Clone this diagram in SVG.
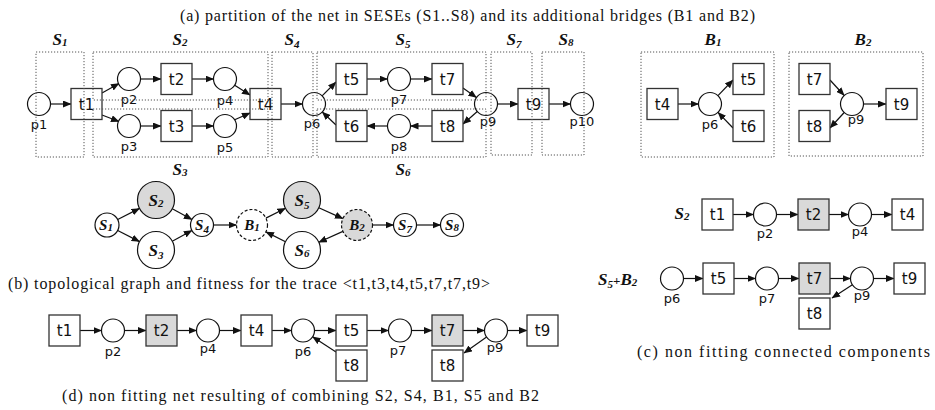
<svg xmlns="http://www.w3.org/2000/svg" width="935" height="410" viewBox="0 0 935 410">
<style>
.pl{fill:#fff;stroke:#111;stroke-width:1.2}
.tr{fill:#fff;stroke:#333;stroke-width:1.3}
.g{fill:#d9d9d9}
.dash{stroke-dasharray:3 2}
.arc{stroke:#111;stroke-width:1.2;fill:none;marker-end:url(#ah)}
.box{fill:none;stroke:#555;stroke-width:1;stroke-dasharray:1.2 1.8}
.tl{font-family:"DejaVu Sans",sans-serif;font-size:15px;text-anchor:middle;fill:#111}
.pt{font-family:"DejaVu Sans",sans-serif;font-size:13px;text-anchor:middle;fill:#111}
.cap{font-family:"Liberation Serif",serif;font-size:16px;fill:#111}
.sl{font-family:"Liberation Serif",serif;font-weight:bold;font-style:italic;font-size:17px;text-anchor:middle;fill:#111}
.sm{font-size:11px}
.gl{font-family:"Liberation Serif",serif;font-weight:bold;font-style:italic;font-size:15px;text-anchor:middle;fill:#111}
</style>
<defs>
<marker id="ah" markerUnits="userSpaceOnUse" markerWidth="9" markerHeight="7" refX="8" refY="3.5" orient="auto">
<path d="M0,0 L8.5,3.5 L0,7 z" fill="#111"/>
</marker>
</defs>
<rect width="935" height="410" fill="#fff"/>

<!-- captions -->
<text class="cap" x="180" y="21" textLength="575" lengthAdjust="spacing">(a) partition of the net in SESEs (S1..S8) and its additional bridges (B1 and B2)</text>
<text class="cap" x="8" y="289" textLength="482" lengthAdjust="spacing">(b) topological graph and fitness for the trace &lt;t1,t3,t4,t5,t7,t7,t9&gt;</text>
<text class="cap" x="637" y="357" textLength="293" lengthAdjust="spacing">(c) non fitting connected components</text>
<text class="cap" x="62" y="401" textLength="477" lengthAdjust="spacing">(d) non fitting net resulting of combining S2, S4, B1, S5 and B2</text>

<!-- ===== (a) ===== -->
<g id="a-connectors">
<line class="arc" x1="50.5" y1="104" x2="71" y2="104"/>
<line class="arc" x1="102" y1="93" x2="119" y2="83.5"/>
<line class="arc" x1="102" y1="115" x2="119" y2="121.5"/>
<line class="arc" x1="140.5" y1="79" x2="161" y2="79"/>
<line class="arc" x1="192" y1="79" x2="213.5" y2="79"/>
<line class="arc" x1="140.5" y1="126" x2="161" y2="126"/>
<line class="arc" x1="192" y1="126" x2="213.5" y2="126"/>
<line class="arc" x1="234.7" y1="85.2" x2="250" y2="95"/>
<line class="arc" x1="234.7" y1="119.8" x2="250" y2="113"/>
<line class="arc" x1="281" y1="104" x2="302.5" y2="104"/>
<line class="arc" x1="322.1" y1="95.9" x2="336" y2="82"/>
<line class="arc" x1="336" y1="125" x2="322.3" y2="112"/>
<line class="arc" x1="367" y1="79" x2="387.5" y2="79"/>
<line class="arc" x1="410.5" y1="79" x2="432" y2="79"/>
<line class="arc" x1="463" y1="88" x2="476.4" y2="97.5"/>
<line class="arc" x1="477.3" y1="111.5" x2="463" y2="124"/>
<line class="arc" x1="432" y1="126" x2="410.5" y2="126"/>
<line class="arc" x1="387.5" y1="126" x2="367" y2="126"/>
<line class="arc" x1="497.5" y1="104" x2="518" y2="104"/>
<line class="arc" x1="549" y1="104" x2="570.5" y2="104"/>
</g>
<g id="a-p1"><circle class="pl" cx="39" cy="104" r="11.5"/><text class="pt" x="39" y="129">p1</text></g>
<g id="a-t1"><rect class="tr" x="71" y="88.5" width="31" height="31"/><text class="tl" x="86.5" y="109.5">t1</text></g>
<g id="a-p2"><circle class="pl" cx="129" cy="79" r="11.5"/><text class="pt" x="129" y="104">p2</text></g>
<g id="a-t2"><rect class="tr" x="161" y="63.5" width="31" height="31"/><text class="tl" x="176.5" y="84.5">t2</text></g>
<g id="a-p4"><circle class="pl" cx="225" cy="79" r="11.5"/><text class="pt" x="225" y="105">p4</text></g>
<g id="a-p3"><circle class="pl" cx="129" cy="126" r="11.5"/><text class="pt" x="129" y="151">p3</text></g>
<g id="a-t3"><rect class="tr" x="161" y="110.5" width="31" height="31"/><text class="tl" x="176.5" y="131.5">t3</text></g>
<g id="a-p5"><circle class="pl" cx="225" cy="126" r="11.5"/><text class="pt" x="225" y="152">p5</text></g>
<g id="a-t4"><rect class="tr" x="250" y="88.5" width="31" height="31"/><text class="tl" x="265.5" y="109.5">t4</text></g>
<g id="a-p6"><circle class="pl" cx="314" cy="104" r="11.5"/><text class="pt" x="312" y="128">p6</text></g>
<g id="a-t5"><rect class="tr" x="336" y="63.5" width="31" height="31"/><text class="tl" x="351.5" y="84.5">t5</text></g>
<g id="a-p7"><circle class="pl" cx="399" cy="79" r="11.5"/><text class="pt" x="399" y="104">p7</text></g>
<g id="a-t7"><rect class="tr" x="432" y="63.5" width="31" height="31"/><text class="tl" x="447.5" y="84.5">t7</text></g>
<g id="a-p9"><circle class="pl" cx="486" cy="104" r="11.5"/><text class="pt" x="488" y="126">p9</text></g>
<g id="a-t6"><rect class="tr" x="336" y="110.5" width="31" height="31"/><text class="tl" x="351.5" y="131.5">t6</text></g>
<g id="a-p8"><circle class="pl" cx="399" cy="126" r="11.5"/><text class="pt" x="399" y="151">p8</text></g>
<g id="a-t8"><rect class="tr" x="432" y="110.5" width="31" height="31"/><text class="tl" x="447.5" y="131.5">t8</text></g>
<g id="a-t9"><rect class="tr" x="518" y="88.5" width="31" height="31"/><text class="tl" x="533.5" y="109.5">t9</text></g>
<g id="a-p10"><circle class="pl" cx="582" cy="104" r="11.5"/><text class="pt" x="582" y="126">p10</text></g>

<g id="a-regions">
<rect class="box" x="36" y="52" width="48" height="105"/>
<rect class="box" x="93" y="52" width="175" height="48"/>
<rect class="box" x="93" y="109" width="175" height="48"/>
<rect class="box" x="272" y="52" width="41" height="105"/>
<rect class="box" x="317" y="52" width="169" height="48"/>
<rect class="box" x="317" y="109" width="169" height="48"/>
<rect class="box" x="491" y="52" width="41" height="103"/>
<rect class="box" x="542" y="52" width="42" height="103"/>
<text class="sl" x="60" y="45">S<tspan class="sm" dy="1">1</tspan></text>
<text class="sl" x="180" y="45">S<tspan class="sm" dy="1">2</tspan></text>
<text class="sl" x="180" y="175">S<tspan class="sm" dy="1">3</tspan></text>
<text class="sl" x="292" y="45">S<tspan class="sm" dy="3">4</tspan></text>
<text class="sl" x="403" y="45">S<tspan class="sm" dy="3">5</tspan></text>
<text class="sl" x="403" y="175">S<tspan class="sm" dy="1">6</tspan></text>
<text class="sl" x="514" y="45">S<tspan class="sm" dy="3">7</tspan></text>
<text class="sl" x="566" y="45">S<tspan class="sm" dy="1">8</tspan></text>
</g>

<!-- bridges -->
<g id="b1-connectors">
<line class="arc" x1="678" y1="104" x2="698.5" y2="104"/>
<line class="arc" x1="718" y1="95.7" x2="733" y2="80"/>
<line class="arc" x1="733" y1="128" x2="718" y2="112.3"/>
</g>
<g id="b1-t4"><rect class="tr" x="647" y="88.5" width="31" height="31"/><text class="tl" x="662.5" y="109.5">t4</text></g>
<g id="b1-p6"><circle class="pl" cx="710" cy="104" r="11.5"/><text class="pt" x="710" y="129">p6</text></g>
<g id="b1-t5"><rect class="tr" x="733" y="63.5" width="31" height="31"/><text class="tl" x="748.5" y="84.5">t5</text></g>
<g id="b1-t6"><rect class="tr" x="733" y="110.5" width="31" height="31"/><text class="tl" x="748.5" y="131.5">t6</text></g>
<g id="b1-region"><rect class="box" x="641" y="52" width="133" height="105"/><text class="sl" x="713" y="45">B<tspan class="sm" dy="1">1</tspan></text></g>

<g id="b2-connectors">
<line class="arc" x1="830" y1="80" x2="844.2" y2="95.5"/>
<line class="arc" x1="844.2" y1="112.5" x2="830" y2="128"/>
<line class="arc" x1="863.5" y1="104" x2="886" y2="104"/>
</g>
<g id="b2-t7"><rect class="tr" x="799" y="63.5" width="31" height="31"/><text class="tl" x="814.5" y="84.5">t7</text></g>
<g id="b2-p9"><circle class="pl" cx="852" cy="104" r="11.5"/><text class="pt" x="856" y="124">p9</text></g>
<g id="b2-t9"><rect class="tr" x="886" y="88.5" width="31" height="31"/><text class="tl" x="901.5" y="109.5">t9</text></g>
<g id="b2-t8"><rect class="tr" x="799" y="110.5" width="31" height="31"/><text class="tl" x="814.5" y="131.5">t8</text></g>
<g id="b2-region"><rect class="box" x="789" y="52" width="134" height="104"/><text class="sl" x="863" y="45">B<tspan class="sm" dy="1">2</tspan></text></g>

<!-- ===== (b) ===== -->
<g id="b-connectors">
<line class="arc" x1="117.7" y1="219.5" x2="139.5" y2="208.4"/>
<line class="arc" x1="117.7" y1="230.5" x2="139.5" y2="241.6"/>
<line class="arc" x1="172.3" y1="208.8" x2="191.9" y2="219.5"/>
<line class="arc" x1="172.3" y1="241.2" x2="191.9" y2="230.5"/>
<line class="arc" x1="213.5" y1="225" x2="236.5" y2="225"/>
<line class="arc" x1="265.9" y1="218.1" x2="285.5" y2="208.3"/>
<line class="arc" x1="318.8" y1="207.7" x2="342.9" y2="218.6"/>
<line class="arc" x1="342.9" y1="231.4" x2="318.8" y2="242.3"/>
<line class="arc" x1="285.5" y1="241.7" x2="265.9" y2="231.9"/>
<line class="arc" x1="372.5" y1="225" x2="393.5" y2="225"/>
<line class="arc" x1="416.5" y1="225" x2="440.5" y2="225"/>
</g>
<g id="g-S1"><circle class="pl" cx="107" cy="225" r="12"/><text class="gl" x="106" y="230">S<tspan class="sm" dy="1">1</tspan></text></g>
<g id="g-S2"><circle class="pl g" cx="156" cy="200" r="18.5"/><text class="sl" x="156" y="206">S<tspan class="sm" dy="1">2</tspan></text></g>
<g id="g-S3"><circle class="pl" cx="156" cy="250" r="18.5"/><text class="sl" x="156" y="256">S<tspan class="sm" dy="3">3</tspan></text></g>
<g id="g-S4"><circle class="pl" cx="202" cy="225" r="11.5"/><text class="gl" x="202" y="230">S<tspan class="sm" dy="3">4</tspan></text></g>
<g id="g-B1"><circle class="pl dash" cx="252" cy="225" r="15.5"/><text class="gl" x="252" y="230">B<tspan class="sm" dy="1">1</tspan></text></g>
<g id="g-S5"><circle class="pl g" cx="302" cy="200" r="18.5"/><text class="sl" x="302" y="206">S<tspan class="sm" dy="3">5</tspan></text></g>
<g id="g-S6"><circle class="pl" cx="302" cy="250" r="18.5"/><text class="sl" x="302" y="256">S<tspan class="sm" dy="1">6</tspan></text></g>
<g id="g-B2"><circle class="pl g dash" cx="357" cy="225" r="15.5"/><text class="gl" x="357" y="230">B<tspan class="sm" dy="1">2</tspan></text></g>
<g id="g-S7"><circle class="pl" cx="405" cy="225" r="11.5"/><text class="gl" x="405" y="230">S<tspan class="sm" dy="3">7</tspan></text></g>
<g id="g-S8"><circle class="pl" cx="452" cy="225" r="11.5"/><text class="gl" x="452" y="230">S<tspan class="sm" dy="1">8</tspan></text></g>

<!-- ===== (c) ===== -->
<text class="sl" x="682" y="219">S<tspan class="sm" dy="1">2</tspan></text>
<g id="c-connectors">
<line class="arc" x1="733" y1="214.5" x2="753.5" y2="214.5"/>
<line class="arc" x1="776.5" y1="214.5" x2="798" y2="214.5"/>
<line class="arc" x1="829" y1="214.5" x2="848.5" y2="214.5"/>
<line class="arc" x1="871.5" y1="214.5" x2="892" y2="214.5"/>
<line class="arc" x1="683.5" y1="278.5" x2="703" y2="278.5"/>
<line class="arc" x1="734" y1="278.5" x2="755.5" y2="278.5"/>
<line class="arc" x1="778.5" y1="278.5" x2="799" y2="278.5"/>
<line class="arc" x1="830" y1="278.5" x2="850.5" y2="278.5"/>
<line class="arc" x1="873.5" y1="278.5" x2="894" y2="278.5"/>
<line class="arc" x1="852.4" y1="284.8" x2="832" y2="298"/>
</g>
<g id="c-t1"><rect class="tr" x="702" y="199" width="31" height="31"/><text class="tl" x="717.5" y="220">t1</text></g>
<g id="c-p2"><circle class="pl" cx="765" cy="214.5" r="11.5"/><text class="pt" x="765" y="238">p2</text></g>
<g id="c-t2"><rect class="tr g" x="798" y="199" width="31" height="31"/><text class="tl" x="813.5" y="220">t2</text></g>
<g id="c-p4"><circle class="pl" cx="860" cy="214.5" r="11.5"/><text class="pt" x="860" y="236">p4</text></g>
<g id="c-t4"><rect class="tr" x="892" y="199" width="31" height="31"/><text class="tl" x="907.5" y="220">t4</text></g>
<text class="sl" x="598" y="285" style="text-anchor:start">S<tspan class="sm" dy="3">5</tspan><tspan dy="-3" style="font-style:normal;font-size:13px">+</tspan>B<tspan class="sm" dy="1">2</tspan></text>
<g id="c-p6"><circle class="pl" cx="672" cy="278.5" r="11.5"/><text class="pt" x="672" y="303">p6</text></g>
<g id="c-t5"><rect class="tr" x="703" y="263" width="31" height="31"/><text class="tl" x="718.5" y="284">t5</text></g>
<g id="c-p7"><circle class="pl" cx="767" cy="278.5" r="11.5"/><text class="pt" x="767" y="303">p7</text></g>
<g id="c-t7"><rect class="tr g" x="799" y="263" width="31" height="31"/><text class="tl" x="814.5" y="284">t7</text></g>
<g id="c-p9"><circle class="pl" cx="862" cy="278.5" r="11.5"/><text class="pt" x="862" y="300">p9</text></g>
<g id="c-t9"><rect class="tr" x="894" y="263" width="31" height="31"/><text class="tl" x="909.5" y="284">t9</text></g>
<g id="c-t8"><rect class="tr" x="799" y="298" width="31" height="31"/><text class="tl" x="814.5" y="319">t8</text></g>

<!-- ===== (d) ===== -->
<g id="d-connectors">
<line class="arc" x1="80" y1="330.5" x2="101.5" y2="330.5"/>
<line class="arc" x1="124.5" y1="330.5" x2="146" y2="330.5"/>
<line class="arc" x1="177" y1="330.5" x2="196.5" y2="330.5"/>
<line class="arc" x1="219.5" y1="330.5" x2="241" y2="330.5"/>
<line class="arc" x1="272" y1="330.5" x2="291.5" y2="330.5"/>
<line class="arc" x1="314.5" y1="330.5" x2="336" y2="330.5"/>
<line class="arc" x1="367" y1="330.5" x2="388.5" y2="330.5"/>
<line class="arc" x1="411.5" y1="330.5" x2="432" y2="330.5"/>
<line class="arc" x1="463" y1="330.5" x2="484.5" y2="330.5"/>
<line class="arc" x1="507.5" y1="330.5" x2="527" y2="330.5"/>
<line class="arc" x1="336" y1="352" x2="312.6" y2="336.8"/>
<line class="arc" x1="486.6" y1="337.1" x2="464" y2="353"/>
</g>
<g id="d-t1"><rect class="tr" x="49" y="315" width="31" height="31"/><text class="tl" x="64.5" y="336">t1</text></g>
<g id="d-p2"><circle class="pl" cx="113" cy="330.5" r="11.5"/><text class="pt" x="113" y="356">p2</text></g>
<g id="d-t2"><rect class="tr g" x="146" y="315" width="31" height="31"/><text class="tl" x="161.5" y="336">t2</text></g>
<g id="d-p4"><circle class="pl" cx="208" cy="330.5" r="11.5"/><text class="pt" x="208" y="353">p4</text></g>
<g id="d-t4"><rect class="tr" x="241" y="315" width="31" height="31"/><text class="tl" x="256.5" y="336">t4</text></g>
<g id="d-p6"><circle class="pl" cx="303" cy="330.5" r="11.5"/><text class="pt" x="303" y="356">p6</text></g>
<g id="d-t5"><rect class="tr" x="336" y="315" width="31" height="31"/><text class="tl" x="351.5" y="336">t5</text></g>
<g id="d-t8a"><rect class="tr" x="336" y="350" width="31" height="31"/><text class="tl" x="351.5" y="371">t8</text></g>
<g id="d-p7"><circle class="pl" cx="400" cy="330.5" r="11.5"/><text class="pt" x="398" y="355">p7</text></g>
<g id="d-t7"><rect class="tr g" x="432" y="315" width="31" height="31"/><text class="tl" x="447.5" y="336">t7</text></g>
<g id="d-p9"><circle class="pl" cx="496" cy="330.5" r="11.5"/><text class="pt" x="495" y="352">p9</text></g>
<g id="d-t8b"><rect class="tr" x="432" y="350" width="31" height="31"/><text class="tl" x="447.5" y="371">t8</text></g>
<g id="d-t9"><rect class="tr" x="527" y="315" width="31" height="31"/><text class="tl" x="542.5" y="336">t9</text></g>
</svg>
